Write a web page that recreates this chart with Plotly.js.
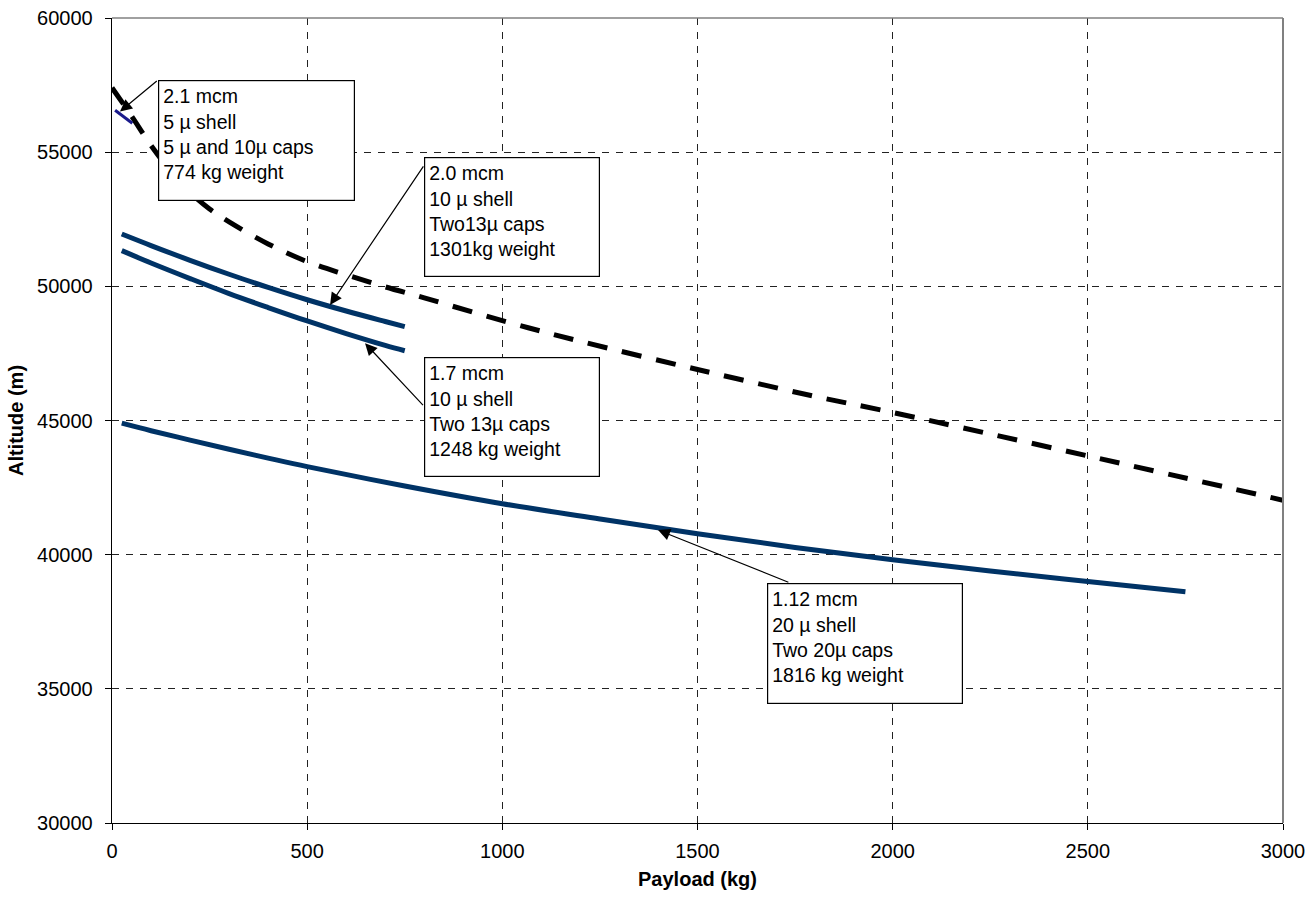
<!DOCTYPE html>
<html>
<head>
<meta charset="utf-8">
<script src="https://cdn.plot.ly/plotly-3.0.1.min.js"></script>
<style>html,body{margin:0;padding:0;background:#fff;}#chart{width:1316px;height:901px;}</style>
</head>
<body>
<div id="chart"></div>
<script>
// ---- Data ----
const payload_21 = [8, 52];
const alt_21 = [56560, 56080];

const payload_20 = [25, 100, 200, 300, 400, 500, 600, 700, 750];
const alt_20 = [51950, 51520, 50970, 50450, 49960, 49500, 49080, 48690, 48500];

const payload_17 = [25, 100, 200, 300, 400, 500, 600, 700, 750];
const alt_17 = [51330, 50870, 50290, 49730, 49210, 48710, 48240, 47800, 47600];

const payload_112 = [25, 100, 200, 300, 400, 500, 750, 1000, 1250, 1500, 1750, 2000, 2250, 2500, 2750];
const alt_112 = [44900, 44620, 44270, 43930, 43600, 43280, 42560, 41900, 41330, 40780, 40270, 39810, 39390, 39000, 38620];

const payload_dash = [0, 50, 100, 150, 200, 250, 300, 400, 500, 600, 700, 800, 1000, 1200, 1500, 1800, 2000, 2500, 3000];
const alt_dash = [57400, 56350, 55250, 54300, 53500, 52880, 52400, 51580, 50920, 50430, 49980, 49570, 48720, 47950, 46900, 45900, 45300, 43680, 42030];

const labels = [
  "2.1 mcm<br>5 µ shell<br>5 µ and 10µ caps<br>774 kg weight",
  "2.0 mcm<br>10 µ shell<br>Two13µ caps<br>1301kg weight",
  "1.7 mcm<br>10 µ shell<br>Two 13µ caps<br>1248 kg weight",
  "1.12 mcm<br>20 µ shell<br>Two 20µ caps<br>1816 kg weight"
];
const xTitle = "Payload (kg)";
const yTitle = "Altitude (m)";

// ---- Layout helpers ----
const FONT = "Liberation Sans, Arial, sans-serif";
const NAVY = "#003366";

const traces = [
  {x: payload_20, y: alt_20, mode: "lines", line: {color: NAVY, width: 5, shape: "spline"}},
  {x: payload_17, y: alt_17, mode: "lines", line: {color: NAVY, width: 5, shape: "spline"}},
  {x: payload_112, y: alt_112, mode: "lines", line: {color: NAVY, width: 5, shape: "spline"}},
  {x: payload_dash, y: alt_dash, mode: "lines", line: {color: "#000000", width: 5, dash: "20px,15px", shape: "spline"}},
  {x: payload_21, y: alt_21, mode: "lines", line: {color: "#1a1a8c", width: 3}}
];

// boxes: [left kg, top m, width px, height px]
const boxes = [
  [118.6, 57699, 197, 121],
  [800.3, 54816, 176, 120],
  [800.3, 47379, 176, 120],
  [1677, 38951, 196, 121]
];
// arrows: [head x, head y, tail x, tail y]
const arrows = [
  [20.5, 56517, 118.6, 57699],
  [558.6, 49307, 800.3, 54529],
  [648.3, 47879, 800.3, 45514],
  [1399, 40916, 1736.7, 38951]
];

const annotations = [];
boxes.forEach((b, i) => {
  annotations.push({
    x: b[0], y: b[1], xref: "x", yref: "y", xanchor: "left", yanchor: "top",
    text: labels[i], showarrow: false, align: "left", valign: "top",
    width: b[2] - 10, height: b[3] - 10, borderpad: 4,
    bordercolor: "#000", borderwidth: 1.2, bgcolor: "#ffffff",
    font: {family: FONT, size: 19.5, color: "#000"}
  });
});
arrows.forEach(a => {
  annotations.push({
    x: a[0], y: a[1], ax: a[2], ay: a[3], xref: "x", yref: "y", axref: "x", ayref: "y",
    text: "", showarrow: true, arrowhead: 2, arrowsize: 2, arrowwidth: 1.2,
    arrowcolor: "#000", standoff: 0, startstandoff: 0
  });
});

const layout = {
  width: 1316, height: 901,
  margin: {l: 112, r: 33, t: 18, b: 78, pad: 0},
  paper_bgcolor: "#fff", plot_bgcolor: "#fff",
  showlegend: false,
  font: {family: FONT, size: 20, color: "#000"},
  xaxis: {
    range: [0, 3000], dtick: 500, tick0: 0, tickformat: "d",
    showgrid: true, gridcolor: "#222", gridwidth: 1, griddash: "7px,7px",
    showline: true, linecolor: "#000", linewidth: 1.3,
    ticks: "outside", ticklen: 6, tickcolor: "#000", tickwidth: 1,
    ticklabelstandoff: 4,
    zeroline: false, fixedrange: true,
    tickfont: {family: FONT, size: 20, color: "#000"},
    title: {text: xTitle, standoff: 10, font: {family: FONT, size: 20, color: "#000", weight: "bold"}}
  },
  yaxis: {
    range: [30000, 60000], dtick: 5000, tick0: 30000, tickformat: "d",
    showgrid: true, gridcolor: "#222", gridwidth: 1, griddash: "7px,7px",
    showline: true, linecolor: "#000", linewidth: 1.3,
    ticks: "outside", ticklen: 6, tickcolor: "#000", tickwidth: 1,
    ticklabelstandoff: 8,
    zeroline: false, fixedrange: true,
    tickfont: {family: FONT, size: 20, color: "#000"},
    title: {text: yTitle, standoff: 8, font: {family: FONT, size: 20, color: "#000", weight: "bold"}}
  },
  shapes: [
    {type: "line", xref: "paper", yref: "paper", x0: 0, x1: 1, y0: 1, y1: 1, line: {color: "#808080", width: 1.5}},
    {type: "line", xref: "paper", yref: "paper", x0: 1, x1: 1, y0: 0, y1: 1, line: {color: "#808080", width: 2}}
  ],
  annotations: annotations
};

Plotly.newPlot("chart", traces, layout, {displayModeBar: false, staticPlot: true});
</script>
</body>
</html>
